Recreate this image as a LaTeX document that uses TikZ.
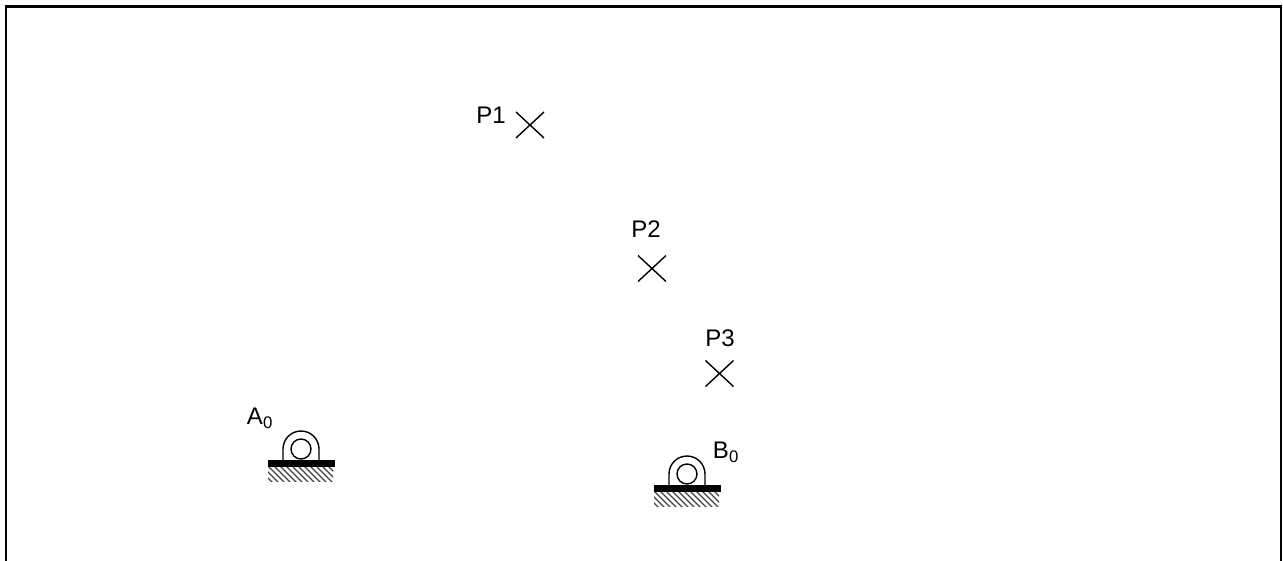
\documentclass[tikz,border=0pt]{standalone}
\usepackage{fontspec}
\setmainfont{Liberation Sans}
\usetikzlibrary{shapes.misc}
\tikzset{
  mark point/.style={cross out, draw, line width=1.05pt, minimum width=21pt, minimum height=19.5pt, inner sep=0pt, outer sep=0pt},
  label text/.style={font=\fontsize{18}{20}\selectfont, inner sep=0pt},
  support/.pic={
    % hatching
    \begin{scope}
      \clip (-33,11) rectangle (32,32);
      \foreach \hx in {-54,-48,...,36} \draw[line width=1pt, black!75] (\hx,14) -- (\hx+22,36);
    \end{scope}
    % base and bearing
    \fill (-33,11) rectangle (34,18);
    \draw[line width=1.05pt] (-18,11) -- (-18,0) arc[start angle=180, end angle=360, radius=18] -- (18,11);
    \draw[line width=1.05pt] (0,0) circle[radius=10];
  }
}
\begin{document}
\begin{tikzpicture}[x=.75pt, y=-.75pt]
\useasboundingbox (0,0) rectangle (1283,561);

% frame
\draw[line width=1.6pt] (6,561) -- (6,6.5) -- (1281,6.5) -- (1281,561);

% points
\node[mark point] (p1) at (530,125) {};
\node[mark point] (p2) at (652,268.5) {};
\node[mark point] (p3) at (719.5,373.5) {};
\node[label text] (p1label) at (491,115) {P1};
\node[label text] (p2label) at (646,229) {P2};
\node[label text] (p3label) at (720,338) {P3};

% supports
\pic (a0) at (301,449) {support};
\pic (b0) at (687,474) {support};
\node[label text] (a0label) at (260,418) {A\textsubscript{0}};
\node[label text] (b0label) at (726,452) {B\textsubscript{0}};
\end{tikzpicture}
\end{document}
